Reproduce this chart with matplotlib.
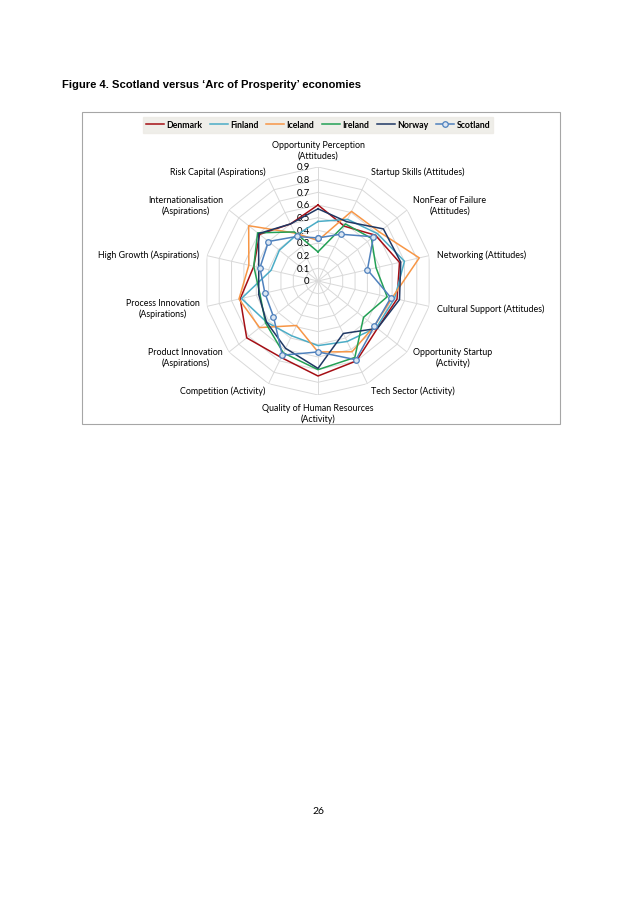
import numpy as np
import matplotlib
matplotlib.use('Agg')
import matplotlib.pyplot as plt
from matplotlib.patches import Rectangle

#Categories going clockwise from the top
categories = ['Opportunity Perception\n(Attitudes)', 'Startup Skills (Attitudes)',
              'NonFear of Failure\n(Attitudes)', 'Networking (Attitudes)',
              'Cultural Support (Attitudes)', 'Opportunity Startup\n(Activity)',
              'Tech Sector (Activity)', 'Quality of Human Resources\n(Activity)',
              'Competition (Activity)', 'Product Innovation\n(Aspirations)',
              'Process Innovation\n(Aspirations)', 'High Growth (Aspirations)',
              'Internationalisation\n(Aspirations)', 'Risk Capital (Aspirations)']

denmark = [0.60, 0.48, 0.58, 0.66, 0.64, 0.60, 0.70, 0.75, 0.67, 0.72, 0.63, 0.52, 0.59, 0.50]
finland = [0.47, 0.54, 0.60, 0.70, 0.62, 0.59, 0.53, 0.51, 0.48, 0.52, 0.62, 0.38, 0.39, 0.40]
iceland = [0.32, 0.61, 0.62, 0.82, 0.60, 0.57, 0.62, 0.56, 0.39, 0.59, 0.64, 0.56, 0.70, 0.42]
ireland = [0.23, 0.50, 0.54, 0.47, 0.56, 0.46, 0.67, 0.70, 0.63, 0.53, 0.47, 0.52, 0.61, 0.43]
norway = [0.57, 0.52, 0.66, 0.67, 0.66, 0.60, 0.46, 0.69, 0.59, 0.52, 0.48, 0.48, 0.60, 0.50]
scotland = [0.34, 0.41, 0.56, 0.40, 0.59, 0.57, 0.69, 0.56, 0.65, 0.45, 0.43, 0.47, 0.50, 0.39]

ticks = [0, 0.1, 0.2, 0.3, 0.4, 0.5, 0.6, 0.7, 0.8, 0.9]
tick_labels = ['0', '0.1', '0.2', '0.3', '0.4', '0.5', '0.6', '0.7', '0.8', '0.9']

W, H = 638, 903
fig = plt.figure(figsize=(W / 100, H / 100), dpi=100)
fig.patch.set_facecolor('white')

#Title of the figure on the page
fig.text(62 / W, 1 - 85 / H, "Figure 4. Scotland versus \u2018Arc of Prosperity\u2019 economies",
         fontsize=8.1, fontweight='bold', family='Liberation Sans', va='center', ha='left')

#Chart frame
fig.patches.append(Rectangle((82 / W, 1 - 425 / H), (560 - 82) / W, (425 - 113) / H,
                             transform=fig.transFigure, fill=False, edgecolor='#A6A6A6', lw=0.8))

#Radar axes
cx, cy, rad = 318, 282, 114
ax = fig.add_axes([(cx - rad) / W, 1 - (cy + rad) / H, 2 * rad / W, 2 * rad / H], projection='polar')
ax.set_theta_zero_location('N')
ax.set_theta_direction(-1)
ax.set_ylim(0, 0.9)
ax.grid(False)
ax.spines['polar'].set_visible(False)
ax.set_xticks([])
ax.set_yticks([])
ax.patch.set_alpha(0)

n = len(categories)
angles = np.linspace(0, 2 * np.pi, n, endpoint=False)
closed = np.append(angles, angles[0])

#Polygon grid like Excel radar
for t in ticks[1:]:
    ax.plot(closed, [t] * (n + 1), color='#D9D9D9', lw=0.7, zorder=1)
for a in angles:
    ax.plot([a, a], [0, 0.9], color='#D9D9D9', lw=0.7, zorder=1)

#Radial tick labels
for t, lab in zip(ticks, tick_labels):
    ax.annotate(lab, xy=(0, t), xytext=(-6, 0), textcoords='offset points',
                ha='right', va='center', fontsize=6.8, family='Lato', color='black')

#Category labels outside the web
for a, lab in zip(angles, categories):
    s, c = np.sin(a), np.cos(a)
    ha = 'left' if s > 0.1 else ('right' if s < -0.1 else 'center')
    va = 'bottom' if c > 0.95 else ('top' if c < -0.95 else 'center')
    ax.annotate(lab, xy=(a, 0.9), xytext=(5.5 * s, 5.5 * c), textcoords='offset points',
                ha=ha, va=va, multialignment='center', fontsize=6.4, family='Lato',
                color='black', annotation_clip=False)

series = [('Denmark', denmark, '#A50F15'), ('Finland', finland, '#4BACC6'),
          ('Iceland', iceland, '#F79646'), ('Ireland', ireland, '#23A055'),
          ('Norway', norway, '#1F3864')]
for name, vals, col in series:
    ax.plot(closed, vals + vals[:1], color=col, lw=1.1, label=name, zorder=3)
ax.plot(closed, scotland + scotland[:1], color='#4F81BD', lw=1.1, marker='o', ms=4.0,
        mfc='#DCE6F2', mec='#4F81BD', mew=0.9, label='Scotland', zorder=4)

#Legend across the top of the chart
leg = fig.legend(loc='center', bbox_to_anchor=(318 / W, 1 - 126 / H), ncol=6,
                 prop={'family': 'Lato', 'weight': 'bold', 'size': 6.3},
                 frameon=True, fancybox=False, handlelength=2.0, handletextpad=0.3,
                 columnspacing=0.9, borderpad=0.35)
leg.get_frame().set_facecolor('#ECEAE4')
leg.get_frame().set_edgecolor('#ECEAE4')

#Page number
fig.text(318 / W, 1 - 812 / H, '26', fontsize=7.5, family='Lato', ha='center', va='center')

plt.savefig('out.png', dpi=100)
